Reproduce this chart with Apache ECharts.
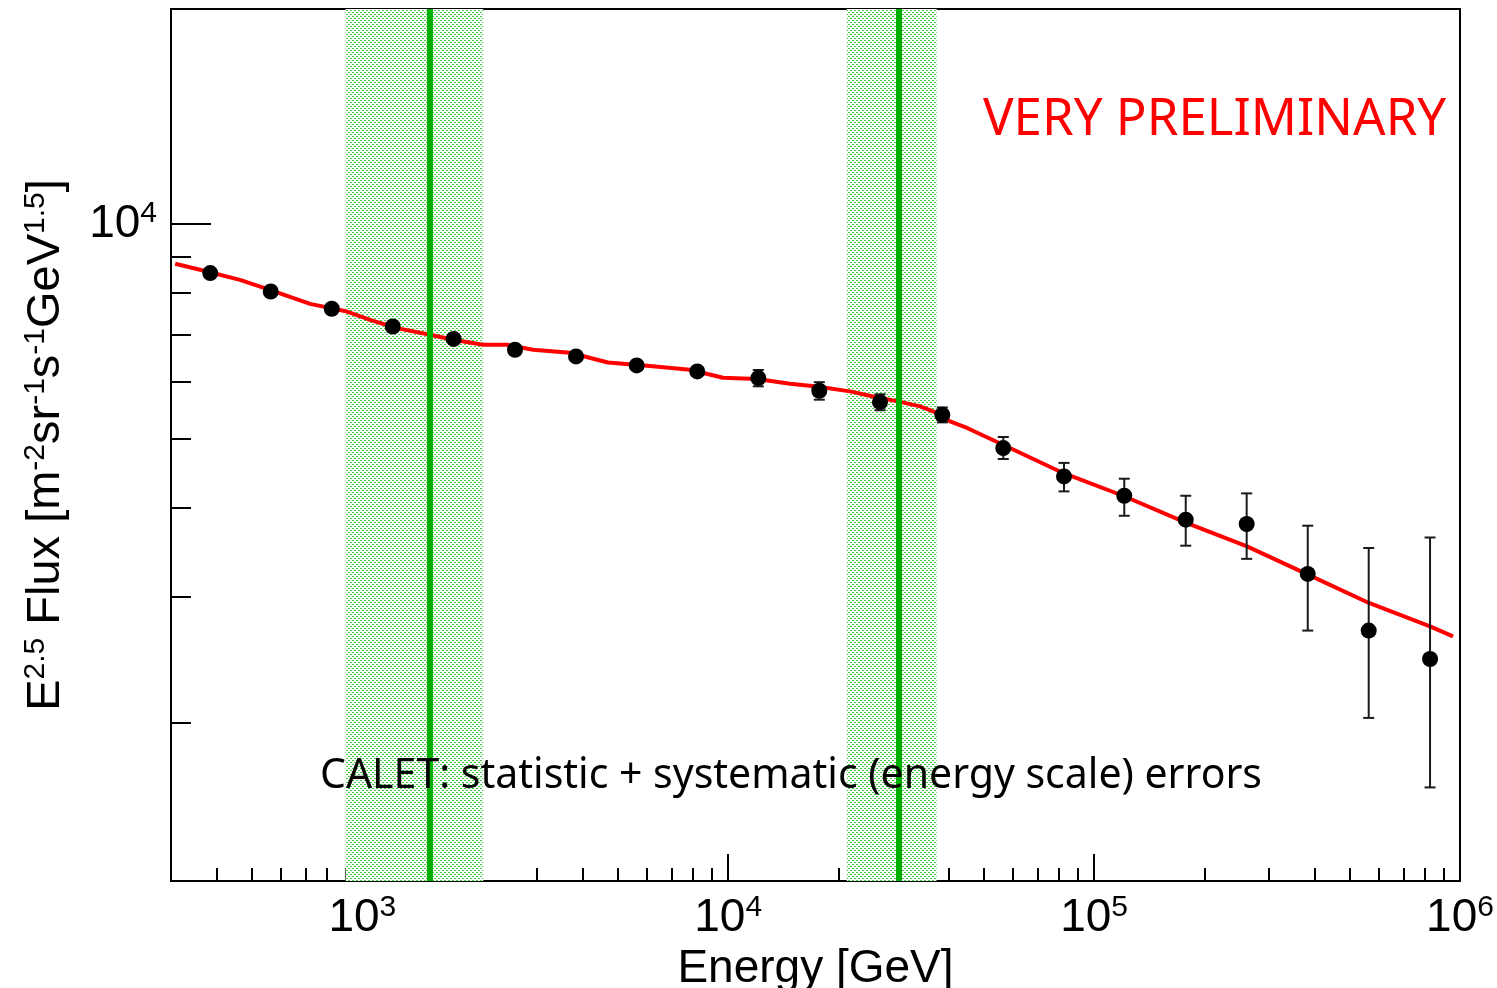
<!DOCTYPE html>
<html>
<head>
<meta charset="utf-8">
<script src="https://cdn.jsdelivr.net/npm/echarts@6/dist/echarts.min.js"></script>
<style>
html,body{margin:0;padding:0;background:#fff;}
#chart{width:1497px;height:988px;}
</style>
</head>
<body>
<div id="chart"></div>
<script>
// ---- data ----
const energy   = [384, 562, 825, 1211, 1777, 2614, 3838, 5622, 8232, 12085, 17740, 25990, 38470, 56460, 82740, 120900, 178000, 261200, 383600, 563000, 828200];
const flux     = [8532, 8038, 7603, 7181, 6898, 6661, 6519, 6333, 6211, 6080, 5836, 5625, 5400, 4851, 4427, 4159, 3850, 3797, 3232, 2692, 2456];
const fluxLow  = [8450, 7960, 7530, 7110, 6830, 6600, 6455, 6270, 6150, 5920, 5670, 5480, 5270, 4683, 4218, 3899, 3540, 3393, 2692, 2031, 1623];
const fluxHigh = [8615, 8120, 7680, 7250, 6970, 6725, 6585, 6400, 6275, 6240, 6000, 5770, 5530, 5027, 4624, 4394, 4159, 4191, 3776, 3514, 3635];

const fitE = [308, 367, 463, 559, 720, 908, 1050, 1244, 1531, 1770, 2137, 2486, 2928, 3695, 4693, 5999, 7862, 9678, 11986, 14756, 17484, 21523, 24871, 29122, 33436, 37215, 40388, 44950, 56367, 82240, 119930, 179460, 261770, 384270, 563960, 827870, 956900];
const fitF = [8790, 8602, 8346, 8082, 7725, 7536, 7337, 7143, 6991, 6879, 6769, 6769, 6661, 6597, 6394, 6326, 6245, 6086, 6060, 5969, 5917, 5824, 5730, 5639, 5549, 5432, 5287, 5176, 4903, 4476, 4159, 3808, 3532, 3225, 2943, 2729, 2642];

const bandLow  = [900, 21080];
const bandHigh = [2140, 37140];
const bandCenter = [1530, 29160];

const xMajorTicks = [1e3, 1e4, 1e5, 1e6];
const xMinorTicks = [400,500,600,700,800,900,2000,3000,4000,5000,6000,7000,8000,9000,20000,30000,40000,50000,60000,70000,80000,90000,200000,300000,400000,500000,600000,700000,800000,900000];
const yMajorTicks = [10000];
const yMinorTicks = [2000,3000,4000,5000,6000,7000,8000,9000];

const xMin = 300, xMax = 1e6, yMin = 1200, yMax = 20000;

// ---- dotted fill pattern ----
const pc = document.createElement('canvas');
pc.width = 4; pc.height = 4;
const pctx = pc.getContext('2d');
pctx.fillStyle = '#ffffff'; pctx.fillRect(0,0,4,4);
pctx.fillStyle = '#3fcf3f';
pctx.fillRect(0,0,2,1); pctx.fillRect(2,2,2,1);

const FONT = 'Liberation Sans';
const rich = {
  b: {fontSize: 46, fontFamily: FONT, color: '#000', lineHeight: 50},
  s: {fontSize: 30, fontFamily: FONT, color: '#000', lineHeight: 30, verticalAlign: 'top'}
};
const powFmt = v => '{b|10}{s|' + Math.round(Math.log10(v)) + '}';

const chart = echarts.init(document.getElementById('chart'), null, {renderer: 'canvas'});
const axisLine = {show: true, lineStyle: {color: '#000', width: 2}};

const option = {
  animation: false,
  backgroundColor: '#fff',
  grid: {left: 171, top: 9, right: 37, bottom: 107, containLabel: false, outerBoundsMode: 'none',
         show: true, borderColor: '#000', borderWidth: 2, backgroundColor: 'transparent'},
  xAxis: [
    {type: 'log', logBase: 10, min: xMin, max: xMax, position: 'bottom',
     axisLine: axisLine, splitLine: {show: false},
     axisTick: {show: true, inside: true, length: 27, lineStyle: {color: '#000', width: 2}, customValues: xMajorTicks},
     axisLabel: {show: true, margin: 12, customValues: xMajorTicks, formatter: powFmt, rich: rich},
     name: 'Energy [GeV]', nameLocation: 'middle', nameGap: 56,
     nameTextStyle: {fontFamily: FONT, fontSize: 46, color: '#000'}},
    {type: 'log', logBase: 10, min: xMin, max: xMax, position: 'bottom',
     axisLine: {show: false}, splitLine: {show: false},
     axisTick: {show: true, inside: true, length: 13, lineStyle: {color: '#000', width: 2}, customValues: xMinorTicks},
     axisLabel: {show: false}}
  ],
  yAxis: [
    {type: 'log', logBase: 10, min: yMin, max: yMax, position: 'left',
     axisLine: axisLine, splitLine: {show: false},
     axisTick: {show: true, inside: true, length: 40, lineStyle: {color: '#000', width: 2}, customValues: yMajorTicks},
     axisLabel: {show: true, margin: 14, customValues: yMajorTicks, formatter: powFmt, rich: rich},
     name: '{n|E}{s|2.5}{n| Flux [m}{s|-2}{n|sr}{s|-1}{n|s}{s|-1}{n|GeV}{s|1.5}{n|]}',
     nameLocation: 'middle', nameRotate: 90, nameGap: 100,
     nameTextStyle: {rich: {
       n: {fontFamily: FONT, fontSize: 47, color: '#000', lineHeight: 50},
       s: {fontFamily: FONT, fontSize: 30, color: '#000', lineHeight: 30, verticalAlign: 'top'}
     }}},
    {type: 'log', logBase: 10, min: yMin, max: yMax, position: 'left', offset: 0,
     axisLine: {show: false}, splitLine: {show: false},
     axisTick: {show: true, inside: true, length: 20, lineStyle: {color: '#000', width: 2}, customValues: yMinorTicks},
     axisLabel: {show: false}}
  ],
  series: [
    {type: 'line', data: [], z: 1, silent: true,
     markArea: {silent: true, itemStyle: {color: {image: pc, repeat: 'repeat'}, opacity: 1},
       data: bandLow.map((lo, i) => [{xAxis: lo}, {xAxis: bandHigh[i]}])}},
    {type: 'line', data: fitE.map((e, i) => [e, fitF[i]]), showSymbol: false, symbol: 'none', z: 3,
     lineStyle: {color: '#ff0000', width: 4}},
    {type: 'line', data: [], z: 4, silent: true,
     markLine: {silent: true, symbol: 'none', label: {show: false},
       lineStyle: {color: '#00b000', width: 6, type: 'solid'},
       data: bandCenter.map(c => ({xAxis: c}))}},
    {type: 'custom', z: 5,
     data: energy.map((e, i) => [e, fluxLow[i], fluxHigh[i]]),
     renderItem: function (params, api) {
       const lo = api.coord([api.value(0), api.value(1)]);
       const hi = api.coord([api.value(0), api.value(2)]);
       const w = 5.5;
       const st = {stroke: '#1a1a1a', lineWidth: 2};
       return {type: 'group', children: [
         {type: 'line', shape: {x1: lo[0], y1: lo[1], x2: hi[0], y2: hi[1]}, style: st},
         {type: 'line', shape: {x1: lo[0]-w, y1: lo[1], x2: lo[0]+w, y2: lo[1]}, style: st},
         {type: 'line', shape: {x1: hi[0]-w, y1: hi[1], x2: hi[0]+w, y2: hi[1]}, style: st}
       ]};
     }},
    {type: 'scatter', z: 6, data: energy.map((e, i) => [e, flux[i]]),
     symbol: 'circle', symbolSize: 16, itemStyle: {color: '#000', opacity: 1}}
  ],
  graphic: [
    {type: 'text', left: 983, top: 95, z: 10,
     style: {text: 'VERY PRELIMINARY', fill: '#ff0000', font: '51px "Noto Sans"'}},
    {type: 'text', left: 320, top: 756, z: 10,
     style: {text: 'CALET: statistic + systematic (energy scale) errors', fill: '#000', font: '41px "Noto Sans"'}}
  ]
};
chart.setOption(option);
</script>
</body>
</html>
